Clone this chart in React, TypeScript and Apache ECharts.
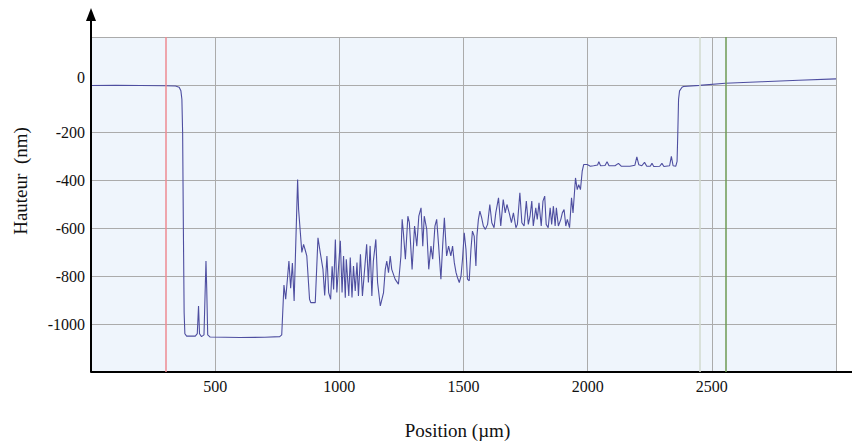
import React, { useEffect, useRef } from "react";
import * as echarts from "echarts";

// Profile: position (µm) and height (nm)
const positions: number[] = [
  0, 100, 200, 300, 340, 355, 362, 366, 369, 372, 375, 378, 385, 420, 428, 433, 437, 445, 455, 460, 463, 466, 470, 480, 600, 700, 760, 768,
  777, 784, 797, 804, 811, 818, 832, 836, 843, 849, 856, 862, 869, 880, 885, 903, 914, 923, 934, 941, 950, 957, 965, 971, 977, 984, 990, 997,
  1004, 1011, 1017, 1024, 1028, 1038, 1044, 1051, 1057, 1064, 1071, 1077, 1085, 1093, 1104, 1110, 1117, 1124, 1131, 1137, 1147, 1154, 1165,
  1178, 1185, 1191, 1198, 1205, 1211, 1225, 1238, 1248, 1253, 1258, 1266, 1276, 1282, 1293, 1303, 1312, 1320, 1329, 1336, 1342, 1352, 1360,
  1369, 1376, 1385, 1392, 1400, 1409, 1416, 1423, 1432, 1440, 1449, 1456, 1463, 1470, 1476, 1483, 1490, 1496, 1503, 1510, 1516, 1523, 1530,
  1536, 1543, 1550, 1554, 1560, 1566, 1573, 1580, 1588, 1597, 1606, 1614, 1623, 1630, 1641, 1650, 1660, 1668, 1675, 1684, 1693, 1701, 1711,
  1717, 1727, 1735, 1744, 1753, 1761, 1768, 1775, 1781, 1791, 1797, 1804, 1813, 1820, 1827, 1833, 1841, 1849, 1855, 1862, 1869, 1874, 1882,
  1892, 1898, 1905, 1912, 1918, 1927, 1935, 1941, 1951, 1958, 1964, 1971, 1978, 1984, 1998, 2011,
  2024, 2040, 2045, 2052, 2070, 2078, 2086, 2110, 2124, 2135, 2170, 2190, 2198, 2206, 2218, 2229, 2238, 2252, 2259, 2266, 2290, 2299, 2307,
  2330, 2337, 2344, 2355, 2360, 2363, 2366, 2370, 2380, 2386, 2450, 2554, 2700, 2850, 3000,
];
const heights: number[] = [
  -3, -2, -3, -4, -5, -10, -25, -60, -200, -600, -950, -1040, -1050, -1050, -1040, -924, -1040, -1052, -1045, -850, -736, -850, -1045, -1054, -1056, -1055, -1052, -1045,
  -837, -896, -736, -850, -745, -903, -396, -521, -617, -700, -667, -688, -715, -896, -910, -910, -639, -700, -770, -880, -715, -868, -896, -758, -855, -646, -868, -758,
  -652, -868, -715, -890, -729, -882, -722, -889, -757, -861, -743, -882, -708, -882, -743, -666, -826, -673, -882, -736, -646, -826, -924,
  -868, -771, -736, -785, -715, -771, -813, -833, -715, -562, -618, -729, -549, -576, -771, -590, -674, -549, -514, -674, -549, -604, -771,
  -674, -729, -590, -562, -674, -812, -674, -555, -715, -674, -715, -674, -743, -785, -806, -826, -799, -729, -618, -688, -812, -819, -688,
  -611, -632, -757, -632, -562, -528, -555, -590, -604, -583, -500, -576, -597, -535, -472, -590, -479, -535, -500, -535, -576, -535, -597,
  -583, -451, -576, -590, -486, -583, -549, -486, -590, -514, -562, -493, -590, -486, -465, -583, -597, -514, -583, -507, -590, -514, -590,
  -562, -535, -521, -590, -562, -597, -472, -535, -389, -438, -417, -438, -361, -333, -333, -340,
  -338, -335, -321, -338, -337, -321, -338, -338, -328, -340, -340, -336, -301, -334, -338, -324, -340, -340, -328, -341, -340, -328, -341,
  -338, -299, -338, -340, -320, -200, -60, -25, -10, -7, -2, 7, 13, 19, 25,
];

// Cursor / reference lines (µm)
const redMarker = 300;
const paleMarker = 2453;
const greenMarker = 2557;

// Axes
const xMin = 0, xMax = 3000, xStep = 500;
const yMin = -1200, yMax = 200, yStep = 200;
const xShownTicks = [500, 1000, 1500, 2000, 2500];
const yShownTicks = [0, -200, -400, -600, -800, -1000];

const FONT = "'Liberation Serif', 'Times New Roman', serif";

export default function App() {
  const ref = useRef<HTMLDivElement>(null);
  useEffect(() => {
    if (!ref.current) return;
    const chart = echarts.init(ref.current, undefined, { renderer: "svg" });
    const data = positions.map((p, i) => [p, heights[i]]);
    chart.setOption({
      animation: false,
      backgroundColor: "#ffffff",
      grid: {
        left: 91,
        right: 16,
        top: 37,
        bottom: 69,
        show: true,
        backgroundColor: "#EFF5FC",
        borderWidth: 0,
        containLabel: false,
        outerBoundsMode: "none",
      },
      xAxis: {
        type: "value",
        min: xMin,
        max: xMax,
        interval: xStep,
        axisLine: { show: true, onZero: false, lineStyle: { color: "#000", width: 2 } },
        axisTick: { show: false },
        splitLine: { show: true, lineStyle: { color: "#ABABAB", width: 1 } },
        axisLabel: {
          margin: 6,
          color: "#111",
          fontFamily: FONT,
          fontSize: 16,
          formatter: (v: number) => (xShownTicks.includes(v) ? String(v) : ""),
        },
        name: "Position (µm)",
        nameLocation: "middle",
        nameGap: 49,
        nameTextStyle: { color: "#111", fontFamily: FONT, fontSize: 19, padding: [0, 12, 0, 0] },
      },
      yAxis: {
        type: "value",
        min: yMin,
        max: yMax,
        interval: yStep,
        axisLine: { show: false },
        axisTick: { show: false },
        splitLine: { show: true, lineStyle: { color: "#ABABAB", width: 1 } },
        axisLabel: {
          margin: 6,
          color: "#111",
          fontFamily: FONT,
          fontSize: 16,
          formatter: (v: number) => {
            if (!yShownTicks.includes(v)) return "";
            return v === 0 ? "{z|0}" : String(v);
          },
          rich: {
            z: { fontFamily: FONT, fontSize: 16, color: "#111", padding: [0, 0, 14, 0] },
          },
        },
      },
      graphic: [
        {
          type: "line",
          shape: { x1: 91, y1: 372, x2: 91, y2: 18 },
          style: { stroke: "#000", lineWidth: 2 },
          z: 10,
        },
        {
          type: "polygon",
          shape: { points: [[91, 8], [86, 21], [96, 21]] },
          style: { fill: "#000" },
          z: 10,
        },
        {
          type: "line",
          shape: { x1: 836, y1: 372, x2: 852, y2: 372 },
          style: { stroke: "#000", lineWidth: 2 },
          z: 10,
        },
        {
          type: "text",
          x: 20,
          y: 181,
          rotation: Math.PI / 2,
          style: {
            text: "Hauteur  (nm)",
            fontFamily: FONT,
            fontSize: 19,
            fill: "#111",
            textAlign: "center",
            textVerticalAlign: "middle",
          },
        },
      ],
      series: [
        {
          type: "line",
          data,
          showSymbol: false,
          symbol: "none",
          lineStyle: { color: "#4E4EA0", width: 1.1 },
          markLine: {
            silent: true,
            symbol: ["none", "none"],
            label: { show: false },
            animation: false,
            data: [
              { xAxis: redMarker, lineStyle: { color: "#EE8A92", width: 1.5, type: "solid" } },
              { xAxis: paleMarker, lineStyle: { color: "#D2DACF", width: 1.5, type: "solid" } },
              { xAxis: greenMarker, lineStyle: { color: "#6E9A55", width: 1.5, type: "solid" } },
            ],
          },
          z: 3,
        },
      ],
    });
    return () => chart.dispose();
  }, []);
  return <div ref={ref} style={{ width: 852, height: 441, position: "absolute", left: 0, top: 0 }} />;
}
